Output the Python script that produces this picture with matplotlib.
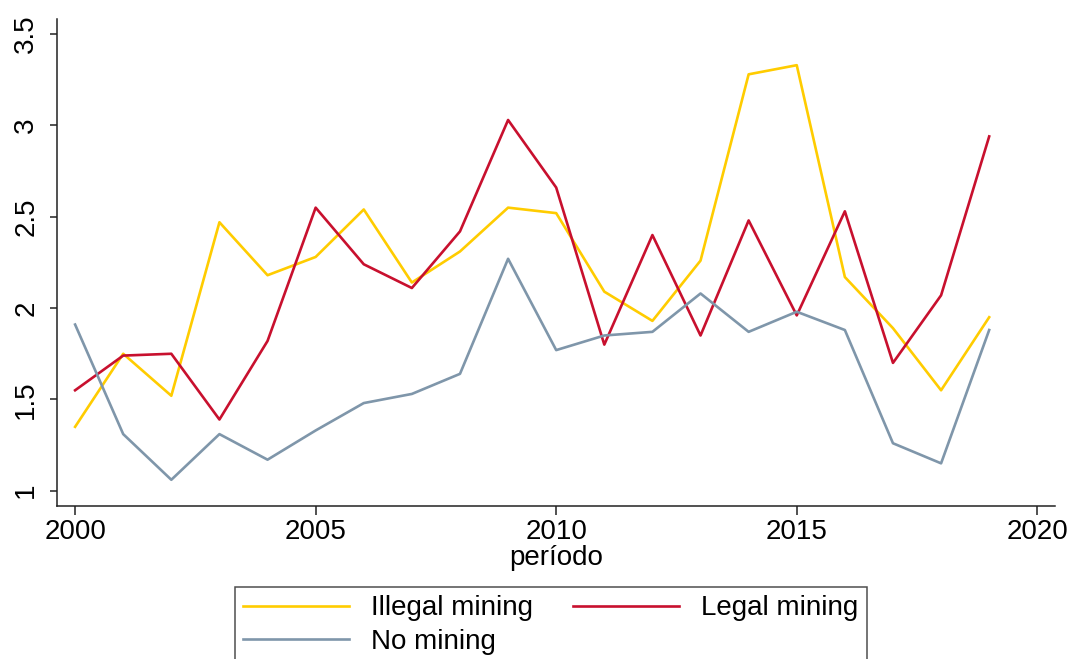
import numpy as np
import matplotlib
matplotlib.use("Agg")
import matplotlib.pyplot as plt

plt.rcParams['font.family'] = ['Liberation Sans', 'DejaVu Sans']

years = list(range(2000, 2020))
illegal = [1.35, 1.75, 1.52, 2.47, 2.18, 2.28, 2.54, 2.14, 2.31, 2.55,
           2.52, 2.09, 1.93, 2.26, 3.28, 3.33, 2.17, 1.89, 1.55, 1.95]
legal = [1.55, 1.74, 1.75, 1.39, 1.82, 2.55, 2.24, 2.11, 2.42, 3.03,
         2.66, 1.80, 2.40, 1.85, 2.48, 1.96, 2.53, 1.70, 2.07, 2.94]
no_mining = [1.91, 1.31, 1.06, 1.31, 1.17, 1.33, 1.48, 1.53, 1.64, 2.27,
             1.77, 1.85, 1.87, 2.08, 1.87, 1.98, 1.88, 1.26, 1.15, 1.88]

labels = ['Illegal mining', 'Legal mining', 'No mining']
colors = ['#FFCC00', '#C8102E', '#7F96AA']

fig = plt.figure(figsize=(10.69, 6.59), dpi=100)
ax = fig.add_axes([0.0536, 0.2326, 0.9334, 0.7386])

lines = []
for vals, lab, col in zip([illegal, legal, no_mining], labels, colors):
    l, = ax.plot(years, vals, color=col, lw=1.9, label=lab)
    lines.append(l)

ax.set_xlim(1999.63, 2020.37)
ax.set_ylim(0.918, 3.583)
ax.set_xticks([2000, 2005, 2010, 2015, 2020])
ax.set_yticks([1, 1.5, 2, 2.5, 3, 3.5])
ax.set_yticklabels(['1', '1.5', '2', '2.5', '3', '3.5'])

for s in ['top', 'right']:
    ax.spines[s].set_visible(False)
for s in ['left', 'bottom']:
    ax.spines[s].set_color('#222222')
    ax.spines[s].set_linewidth(1.1)

ax.tick_params(axis='x', length=6.5, width=1.1, pad=3, labelsize=20, color='#222222')
ax.tick_params(axis='y', length=5, width=1.1, pad=8, labelsize=20, color='#222222')
for t in ax.get_yticklabels():
    t.set_rotation(90)
    t.set_va('center')
    t.set_ha('right')

ax.set_xlabel('período', fontsize=20, labelpad=0)

# row order: Illegal, Legal / No mining
order = [0, 2, 1]
leg = fig.legend([lines[i] for i in order], [labels[i] for i in order],
                 loc='upper left', bbox_to_anchor=(235 / 1069, 1 - 587 / 659),
                 ncol=2, fontsize=20, frameon=True, fancybox=False,
                 handlelength=3.8, columnspacing=1.45, handletextpad=0.8,
                 borderpad=0.3, labelspacing=0.28, borderaxespad=0)
leg.get_frame().set_edgecolor('#222222')
leg.get_frame().set_linewidth(1.1)

fig.savefig('out.png', dpi=100)
